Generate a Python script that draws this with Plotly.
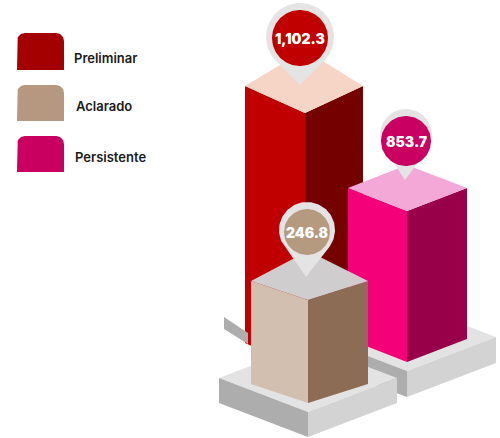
import numpy as np
import plotly.graph_objects as go

# Series
categories = ["Preliminar", "Aclarado", "Persistente"]
values = [1102.3, 246.8, 853.7]
value_labels = ["1,102.3", "246.8", "853.7"]

# Bar height scale of the infographic (value -> pixels)
scale_values = [246.8, 853.7, 1102.3]
scale_pixels = [103, 151, 245]

FONT = "Inter"

# Colours per category
palette = {
    "Preliminar": dict(front="#c00000", side="#750000", top="#f6d5c6", pin="#c00000", swatch="#a50000"),
    "Aclarado": dict(front="#d3bfb0", side="#8c6c54", top="#cfcdcd", pin="#b59a80", swatch="#b5987f"),
    "Persistente": dict(front="#f40078", side="#98004a", top="#f4a8d8", pin="#c90062", swatch="#c90060"),
}

# Isometric footprint of each bar: left, front, right, back corners
footprints = {
    "Preliminar": [(245, 331), (305, 358), (363, 331), (305, 295)],
    "Aclarado": [(251, 384), (308, 403), (368, 384), (308, 354)],
    "Persistente": [(348, 339), (407, 362), (467, 339), (407, 316)],
}

# How far a bar's front face runs below its footprint, into the plinth
sink = {"Preliminar": 12, "Aclarado": 0, "Persistente": 0}

# Pin geometry: tip, ring centre, ring radius, disc centre, disc radius
pins = {
    "Preliminar": dict(tip=(300, 85), ring=(300, 37), ring_r=34, disc=(300, 38), disc_r=28),
    "Aclarado": dict(tip=(306, 277), ring=(307, 230), ring_r=28, disc=(307, 232), disc_r=23),
    "Persistente": dict(tip=(405, 180), ring=(406, 135), ring_r=26, disc=(406, 141), disc_r=25),
}

legend_rows = {
    "Preliminar": dict(y0=33, y1=70, label=(72, 58)),
    "Aclarado": dict(y0=85, y1=121, label=(74, 106)),
    "Persistente": dict(y0=136, y1=172, label=(73, 157)),
}

fig = go.Figure()


def poly(points, color):
    xs, ys = zip(*points)
    fig.add_trace(go.Scatter(
        x=list(xs) + [xs[0]], y=list(ys) + [ys[0]], mode="lines", fill="toself",
        fillcolor=color, line=dict(width=0), hoverinfo="skip", showlegend=False,
    ))


def slab(left, front, right, back, depth):
    # Low plinth under a bar: top plate and two visible sides
    poly([left, front, right, back], "#e3e3e3")
    lower = lambda p: (p[0], p[1] + depth)
    poly([left, front, lower(front), lower(left)], "#adadad")
    poly([front, right, lower(right), lower(front)], "#d3d3d3")


def bar(name):
    left, front, right, back = footprints[name]
    value = values[categories.index(name)]
    h = float(np.interp(value, scale_values, scale_pixels))
    up = lambda p: (p[0], p[1] - h)
    down = lambda p: (p[0], p[1] + sink[name])
    c = palette[name]
    poly([down(left), down(front), up(front), up(left)], c["front"])
    poly([front, right, up(right), up(front)], c["side"])
    poly([up(left), up(front), up(right), up(back)], c["top"])


def pin(name):
    p = pins[name]
    tx, ty = p["tip"]
    cx, cy = p["ring"]
    r = p["ring_r"]
    # Teardrop: circle arc joined to the tip along its tangents
    dist = np.hypot(tx - cx, ty - cy)
    axis = np.arctan2(ty - cy, tx - cx)
    spread = np.arccos(r / dist)
    angles = np.linspace(axis + spread, axis + 2 * np.pi - spread, 90)
    ring = [(cx + r * np.cos(a), cy + r * np.sin(a)) for a in angles]
    poly([(tx, ty)] + ring, "#e4e4e4")
    dx, dy = p["disc"]
    dr = p["disc_r"]
    angles = np.linspace(0, 2 * np.pi, 120)
    poly([(dx + dr * np.cos(a), dy + dr * np.sin(a)) for a in angles], palette[name]["pin"])
    fig.add_annotation(
        x=dx, y=dy, text=value_labels[categories.index(name)], showarrow=False,
        font=dict(family=FONT, size=14, color="white", weight=900),
    )


def swatch(name):
    row = legend_rows[name]
    x0, x1, y0, y1, rad = 17, 64, row["y0"], row["y1"], 8
    a = np.linspace(np.pi, 1.5 * np.pi, 12)
    corner_l = [(x0 + rad + rad * np.cos(t), y0 + rad + rad * np.sin(t)) for t in a]
    a = np.linspace(1.5 * np.pi, 2 * np.pi, 12)
    corner_r = [(x1 - rad + rad * np.cos(t), y0 + rad + rad * np.sin(t)) for t in a]
    poly([(x0, y1)] + corner_l + corner_r + [(x1, y1)], palette[name]["swatch"])
    lx, ly = row["label"]
    fig.add_annotation(
        x=lx, y=ly, text=name, showarrow=False, xanchor="left",
        font=dict(family=FONT, size=13, color="#1a1a1a", weight=600),
    )


# Back to front
bar("Preliminar")
poly([(224, 317), (248, 333), (248, 344), (224, 329)], "#adadad")
slab((318, 337), (407, 371), (496, 337), (407, 303), 26)
bar("Persistente")
slab((219, 378), (308, 412), (397, 378), (308, 344), 25)
bar("Aclarado")

for name in categories:
    pin(name)
    swatch(name)

fig.update_layout(
    width=500, height=438, autosize=False,
    margin=dict(l=0, r=0, t=0, b=0),
    paper_bgcolor="white", plot_bgcolor="white", showlegend=False,
    xaxis=dict(range=[0, 500], visible=False, fixedrange=True),
    yaxis=dict(range=[438, 0], visible=False, fixedrange=True),
)

fig.write_html("out.html", config=dict(displayModeBar=False))
